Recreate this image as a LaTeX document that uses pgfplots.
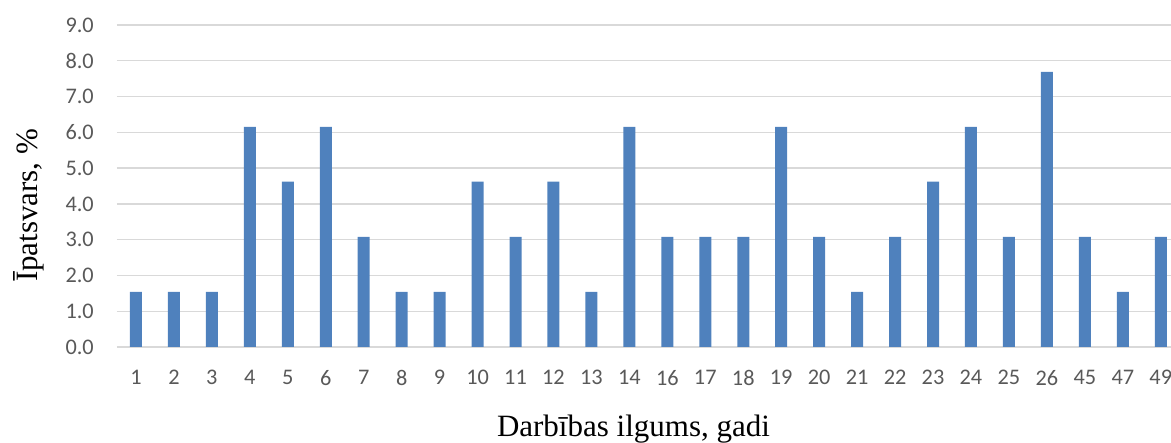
\documentclass[border=0pt]{standalone}
\usepackage{fontspec}
\setmainfont{Liberation Serif}
\newfontfamily\carlito{Carlito}
\usepackage{pgfplots}
\pgfplotsset{compat=1.18}
\definecolor{barblue}{HTML}{4F81BD}
\definecolor{gridgray}{HTML}{D9D9D9}
\definecolor{ticktext}{HTML}{595959}
\begin{document}
\begin{tikzpicture}
\begin{axis}[
  at={(117pt,96pt)}, anchor=south west,
  scale only axis, width=1054pt, height=322pt,
  xmin=-0.5, xmax=27.27, ymin=0, ymax=9,
  ybar, bar width=12pt,
  xtick=data,
  xticklabels={1,2,3,4,5,6,7,8,9,10,11,12,13,14,16,17,18,19,20,21,22,23,24,25,26,45,47,49},
  ytick={0,1,2,3,4,5,6,7,8,9},
  ymajorgrids, grid style={gridgray, line width=1.3pt},
  major tick length=0pt,
  axis line style={draw=none},
  tick label style={font=\carlito\fontsize{22.3}{24}\selectfont, text=ticktext},
  yticklabel style={anchor=east, inner sep=0pt, xshift=-23pt},
  xticklabel style={anchor=north, inner sep=0pt, yshift=-23pt},
  /pgf/number format/fixed, /pgf/number format/fixed zerofill,
  /pgf/number format/precision=1, /pgf/number format/assume math mode=true,
  xlabel={Darbības ilgums, gadi},
  xlabel style={at={(axis description cs:0.49,-0.2795)}, anchor=base, font=\fontsize{31}{36}\selectfont},
  ylabel={Īpatsvars, \%},
  ylabel style={at={(axis description cs:-0.0759,0.44)}, anchor=base, font=\fontsize{31}{36}\selectfont},
]
\addplot[fill=barblue, draw=none] coordinates {
(0,1.54)(1,1.54)(2,1.54)(3,6.15)(4,4.62)(5,6.15)(6,3.08)(7,1.54)(8,1.54)(9,4.62)
(10,3.08)(11,4.62)(12,1.54)(13,6.15)(14,3.08)(15,3.08)(16,3.08)(17,6.15)(18,3.08)
(19,1.54)(20,3.08)(21,4.62)(22,6.15)(23,3.08)(24,7.69)(25,3.08)(26,1.54)(27,3.08)};
\end{axis}
\pgfresetboundingbox
\useasboundingbox (0,0) rectangle (1171pt,443pt);
\end{tikzpicture}
\end{document}
